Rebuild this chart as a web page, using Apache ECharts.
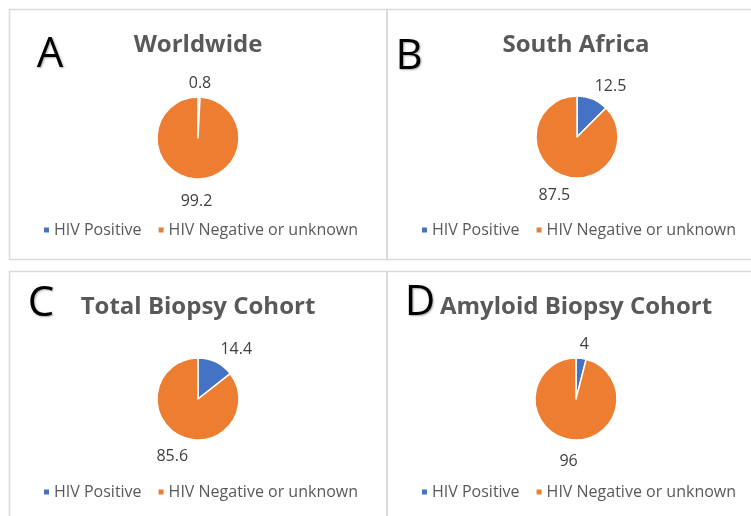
<!DOCTYPE html>
<html>
<head>
<meta charset="utf-8">
<script src="https://cdn.jsdelivr.net/npm/echarts@6/dist/echarts.min.js"></script>
<style>
    html, body { margin: 0; padding: 0; background: #fff; }
    #chart { width: 751px; height: 516px; }
</style>
</head>
<body>
<div id="chart"></div>
<script>
    // data
    var panelLetters = ['A', 'B', 'C', 'D'];
    var panelTitles = ['Worldwide', 'South Africa', 'Total Biopsy Cohort', 'Amyloid Biopsy Cohort'];
    var categories = ['HIV Positive', 'HIV Negative or unknown'];
    var hivPositive = [0.8, 12.5, 14.4, 4];
    var hivNegative = [99.2, 87.5, 85.6, 96];

    // layout of the four panels
    var panels = [
        {x: 9.5, y: 9.5, cx: 198, cy: 138, titleX: 198, titleY: 33, letterX: 50, letterY: 34, legendX: 42, legendY: 222},
        {x: 387, y: 9.5, cx: 577, cy: 137, titleX: 576, titleY: 33, letterX: 409, letterY: 36, legendX: 420, legendY: 222},
        {x: 9.5, y: 271.5, cx: 198, cy: 399, titleX: 198, titleY: 295, letterX: 41, letterY: 283, legendX: 42, legendY: 484},
        {x: 387, y: 271.5, cx: 576, cy: 399, titleX: 576, titleY: 295, letterX: 420, letterY: 282, legendX: 420, legendY: 484}
    ];
    var font = '"Open Sans", "DejaVu Sans", sans-serif';

    var myChart = echarts.init(document.getElementById('chart'));

    // excel-like "best fit": the small slice's label leans out to the side it points to
    function labelPlace(params) {
        var res = {align: 'center', dy: 4};
        if (params.dataIndex === 0) {
            var i = params.seriesIndex;
            var half = hivPositive[i] / (hivPositive[i] + hivNegative[i]) * Math.PI;
            res.dx = 0.9 * params.labelRect.width * Math.sin(half);
        }
        return res;
    }

    var titles = [], legends = [], series = [], graphics = [];
    panels.forEach(function (p, i) {
        graphics.push({
            type: 'rect',
            shape: {x: p.x, y: p.y, width: 377.5, height: 250},
            style: {fill: null, stroke: '#d9d9d9', lineWidth: 1.5},
            silent: true
        });
        titles.push({
            text: panelTitles[i],
            left: p.titleX,
            top: p.titleY,
            textAlign: 'center',
            padding: 0,
            textStyle: {fontFamily: font, fontSize: 24, fontWeight: 'bold', color: '#595959'}
        });
        titles.push({
            text: panelLetters[i],
            left: p.letterX,
            top: p.letterY,
            textAlign: 'center',
            padding: 0,
            textStyle: {fontFamily: font, fontSize: 42, fontWeight: 'normal', color: '#000',
                textShadowColor: 'rgba(0,0,0,0.35)', textShadowBlur: 2, textShadowOffsetX: 1, textShadowOffsetY: 1}
        });
        legends.push({
            data: categories,
            left: p.legendX,
            top: p.legendY,
            padding: 0,
            itemWidth: 7,
            itemHeight: 7,
            itemGap: 15,
            icon: 'rect',
            selectedMode: false,
            textStyle: {fontFamily: font, fontSize: 16, color: '#595959', padding: [0, 0, 0, -1]}
        });
        series.push({
            type: 'pie',
            center: [p.cx, p.cy],
            radius: 41,
            startAngle: 90,
            clockwise: true,
            avoidLabelOverlap: false,
            itemStyle: {borderColor: '#fff', borderWidth: 1.5},
            label: {
                position: 'outside',
                formatter: '{c}',
                fontFamily: font,
                fontSize: 16,
                color: '#404040',
                distanceToLabelLine: 0
            },
            labelLine: {show: false, length: 18, length2: 0},
            labelLayout: labelPlace,
            emphasis: {disabled: true},
            data: categories.map(function (name, k) {
                return {name: name, value: k === 0 ? hivPositive[i] : hivNegative[i]};
            })
        });
    });

    var option = {
        animation: false,
        color: ['#4472C4', '#ED7D31'],
        title: titles,
        legend: legends,
        graphic: graphics,
        series: series
    };
    myChart.setOption(option);
</script>
</body>
</html>
